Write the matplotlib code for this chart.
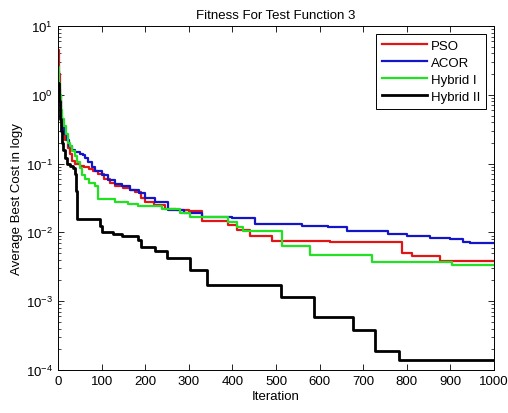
import matplotlib
matplotlib.use("Agg")
import matplotlib.pyplot as plt
from matplotlib.ticker import LogLocator

plt.rcParams['font.family'] = ['Liberation Sans', 'DejaVu Sans']

# ---- data (breakpoints of step curves: iteration, average best cost) ----
pso_it = [0, 2, 4, 6, 8, 12, 16, 22, 28, 33, 40, 50, 60, 70, 80, 92, 105, 120, 131, 150,
          165, 177, 190, 200, 220, 245, 270, 300, 330, 390, 410, 440, 490, 624, 647, 788,
          811, 876, 1000]
pso_val = [4.5, 2.0, 1.0, 0.6, 0.4, 0.28, 0.22, 0.17, 0.14, 0.11, 0.1, 0.092, 0.088, 0.083,
           0.077, 0.07, 0.06, 0.052, 0.048, 0.044, 0.042, 0.039, 0.032, 0.028, 0.025, 0.022,
           0.021, 0.0205, 0.0145, 0.0126, 0.011, 0.0089, 0.0076, 0.0072, 0.0072, 0.0051,
           0.0045, 0.0039, 0.0039]

acor_it = [0, 2, 4, 7, 10, 14, 20, 26, 31, 38, 50, 57, 63, 69, 77, 85, 100, 115, 130, 146,
           165, 185, 200, 222, 252, 290, 330, 370, 400, 452, 560, 620, 662, 757, 800, 853,
           899, 929, 945, 1000]
acor_val = [2.2, 1.2, 0.8, 0.5, 0.35, 0.27, 0.22, 0.18, 0.16, 0.145, 0.14, 0.135, 0.12, 0.105,
            0.09, 0.078, 0.068, 0.058, 0.05, 0.047, 0.042, 0.037, 0.032, 0.028, 0.021, 0.019,
            0.017, 0.0165, 0.016, 0.0132, 0.0125, 0.0119, 0.0105, 0.0095, 0.009, 0.0083,
            0.0079, 0.0073, 0.0071, 0.0071]

hyb1_it = [0, 2, 4, 7, 10, 13, 18, 23, 27, 33, 39, 44, 50, 56, 62, 72, 85, 92, 131, 160,
           184, 238, 280, 303, 371, 390, 410, 425, 513, 578, 721, 903, 1000]
hyb1_val = [2.5, 1.5, 1.0, 0.6, 0.45, 0.35, 0.27, 0.2, 0.18, 0.15, 0.13, 0.105, 0.085, 0.068,
            0.059, 0.052, 0.047, 0.031, 0.028, 0.026, 0.024, 0.022, 0.019, 0.017, 0.0165,
            0.014, 0.012, 0.0106, 0.0064, 0.0047, 0.0037, 0.0034, 0.0034]

hyb2_it = [0, 2, 4, 6, 9, 12, 16, 20, 28, 35, 38, 41, 44, 96, 100, 126, 146, 183, 190, 222,
           249, 303, 341, 511, 587, 676, 727, 782, 1000]
hyb2_val = [1.5, 0.8, 0.45, 0.3, 0.2, 0.16, 0.12, 0.1, 0.092, 0.085, 0.07, 0.04, 0.0157,
            0.0125, 0.0102, 0.0095, 0.0088, 0.0077, 0.0062, 0.0054, 0.0042, 0.0028, 0.0017,
            0.00116, 0.00058, 0.000385, 0.000187, 0.00014, 0.00014]

series = [
    ("PSO", pso_it, pso_val, "#e01515", 1.6),
    ("ACOR", acor_it, acor_val, "#1515c8", 1.6),
    ("Hybrid I", hyb1_it, hyb1_val, "#22e022", 1.6),
    ("Hybrid II", hyb2_it, hyb2_val, "#000000", 2.0),
]

FS = 9.5

fig = plt.figure(figsize=(5.08, 4.14), dpi=100)
ax = fig.add_axes([58 / 508, 1 - 371 / 414, (494 - 58) / 508, (371 - 27) / 414])

for name, it, val, col, lw in series:
    ax.step(it, val, where="post", color=col, lw=lw, label=name)

ax.set_yscale("log")
ax.set_xlim(0, 1000)
ax.set_ylim(1e-4, 1e1)
ax.set_xticks(range(0, 1001, 100))
ax.yaxis.set_major_locator(LogLocator(base=10, numticks=10))
ax.yaxis.set_minor_locator(LogLocator(base=10, subs=range(2, 10), numticks=100))
ax.tick_params(which="both", direction="in", top=True, right=True, labelsize=FS)
ax.tick_params(which="major", length=4, width=0.6)
ax.tick_params(which="minor", length=2, width=0.5)
for s in ax.spines.values():
    s.set_linewidth(0.7)

ax.set_title("Fitness For Test Function 3", fontsize=FS, pad=6)
ax.set_xlabel("Iteration", fontsize=FS, labelpad=2)
ax.set_ylabel("Average Best Cost in logy", fontsize=FS, labelpad=2)

leg = ax.legend(loc="upper right", fontsize=FS, handlelength=3.4, fancybox=False,
                framealpha=1, edgecolor="black", borderaxespad=0.6, labelspacing=0.35,
                handletextpad=0.3, borderpad=0.45)
leg.get_frame().set_linewidth(0.7)

fig.savefig("out.png", dpi=100, facecolor="white")
